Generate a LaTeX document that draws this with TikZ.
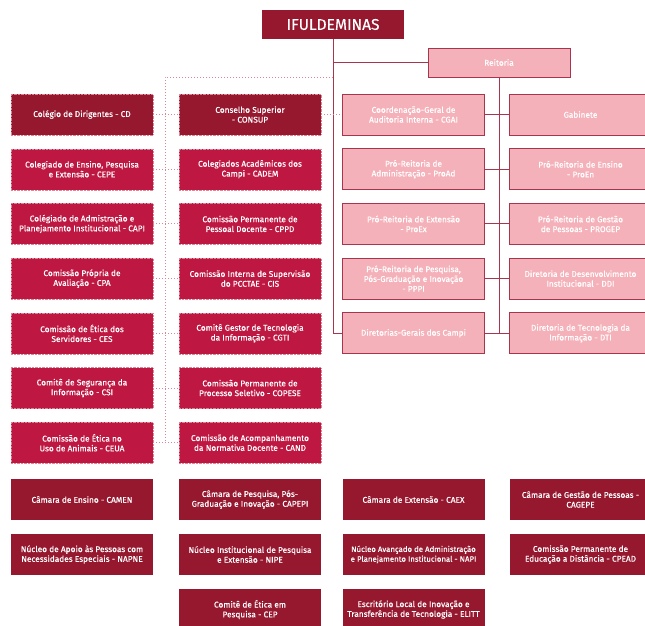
\documentclass[tikz,border=0pt]{standalone}
\usepackage{fontspec}
\setmainfont{Fira Sans}[FakeBold=0.35]
\usepackage{tikz}
\usetikzlibrary{positioning, calc}

\definecolor{vinho}{HTML}{95182F}
\definecolor{carmim}{HTML}{BE1742}
\definecolor{rosa}{HTML}{F5B1B9}
\definecolor{borda}{HTML}{A8354E}
\definecolor{ponto}{HTML}{DA8696}

\begin{document}
\begin{tikzpicture}[
		x=1pt, y=-1pt,
		every node/.style={rectangle,minimum width=142,minimum height=41,align=center,inner sep=1pt,
			text=white,font=\fontsize{8.3}{9.8}\selectfont},
		escuro/.style={fill=vinho},
		conselho/.style={fill=vinho,draw=ponto,densely dotted},
		comissao/.style={fill=carmim,draw=ponto,densely dotted},
		reitoria/.style={fill=rosa,draw=borda,line width=0.9pt},
		linha/.style={draw=borda,line width=1pt},
		pontilhado/.style={draw=ponto,line width=1pt,dotted}]
		\useasboundingbox (0,0) rectangle (645,625);
		\node[escuro, minimum height=29, font=\fontsize{15.5}{17}\selectfont] (ifu) at (333,24.5) {IFULDEMINAS};
		\node[reitoria, minimum height=29] (reit) at (499,62.5) {Reitoria};
		
		% colegiados e comissoes
		\node[conselho] (cd) at (82,114.5) {Colégio de Dirigentes - CD};
		\node[comissao] (cepe) at ($ (cd) + (0,54.7) $) {Colegiado de Ensino, Pesquisa\\e Extensão - CEPE};
		\node[comissao] (capi) at ($ (cepe) + (0,54.7) $) {Colégiado de Admistração e\\Planejamento Institucional - CAPI};
		\node[comissao] (cpa) at ($ (capi) + (0,54.7) $) {Comissão Própria de\\Avaliação - CPA};
		\node[comissao] (ces) at ($ (cpa) + (0,54.7) $) {Comissão de Ética dos\\Servidores - CES};
		\node[comissao] (csi) at ($ (ces) + (0,54.7) $) {Comitê de Segurança da\\Informação - CSI};
		\node[comissao] (ceua) at ($ (csi) + (0,54.7) $) {Comissão de Ética no\\Uso de Animais - CEUA};
		\node[conselho] (consup) at ($ (cd) + (168,0) $) {Conselho Superior\\- CONSUP};
		\node[comissao] (cadem) at ($ (cepe) + (168,0) $) {Colegiados Acadêmicos dos\\Campi - CADEM};
		\node[comissao] (cppd) at ($ (capi) + (168,0) $) {Comissão Permanente de\\Pessoal Docente - CPPD};
		\node[comissao] (cis) at ($ (cpa) + (168,0) $) {Comissão Interna de Supervisão\\do PCCTAE - CIS};
		\node[comissao] (cgti) at ($ (ces) + (168,0) $) {Comitê Gestor de Tecnologia\\da Informação - CGTI};
		\node[comissao] (copese) at ($ (csi) + (168,0) $) {Comissão Permanente de\\Processo Seletivo - COPESE};
		\node[comissao] (cand) at ($ (ceua) + (168,0) $) {Comissão de Acompanhamento\\da Normativa Docente - CAND};
		
		% reitoria
		\node[reitoria] (cgai) at (413.5,114.5) {Coordenação-Geral de\\Auditoria Interna - CGAI};
		\node[reitoria] (proad) at ($ (cgai) + (0,54.7) $) {Pró-Reitoria de\\Administração - ProAd};
		\node[reitoria] (proex) at ($ (proad) + (0,54.7) $) {Pró-Reitoria de Extensão\\- ProEx};
		\node[reitoria] (pppi) at ($ (proex) + (0,54.7) $) {Pró-Reitoria de Pesquisa,\\Pós-Graduação e Inovação\\- PPPI};
		\node[reitoria] (dgc) at ($ (pppi) + (0,54.7) $) {Diretorias-Gerais dos Campi};
		\node[reitoria] (gab) at ($ (cgai) + (167,0) $) {Gabinete};
		\node[reitoria] (proen) at ($ (proad) + (167,0) $) {Pró-Reitoria de Ensino\\- ProEn};
		\node[reitoria] (progep) at ($ (proex) + (167,0) $) {Pró-Reitoria de Gestão\\de Pessoas - PROGEP};
		\node[reitoria] (ddi) at ($ (pppi) + (167,0) $) {Diretoria de Desenvolvimento\\Institucional - DDI};
		\node[reitoria] (dti) at ($ (dgc) + (167,0) $) {Diretoria de Tecnologia da\\Informação - DTI};
		
		% camaras e nucleos
		\node[escuro] (camen) at (82,499.5) {Câmara de Ensino - CAMEN};
		\node[escuro] (capepi) at (250,499.5) {Câmara de Pesquisa, Pós-\\Graduação e Inovação - CAPEPI};
		\node[escuro] (caex) at (413.5,499.5) {Câmara de Extensão - CAEX};
		\node[escuro] (cagepe) at (580.5,499.5) {Câmara de Gestão de Pessoas -\\CAGEPE};
		\node[escuro] (napne) at ($ (camen) + (0,55) $) {Núcleo de Apoio às Pessoas com\\Necessidades Especiais - NAPNE};
		\node[escuro] (nipe) at ($ (capepi) + (0,55) $) {Núcleo Institucional de Pesquisa\\e Extensão - NIPE};
		\node[escuro, font=\fontsize{7.8}{9.8}\selectfont] (napi) at ($ (caex) + (0,55) $) {Núcleo Avançado de Administração\\e Planejamento Institucional - NAPI};
		\node[escuro] (cpead) at ($ (cagepe) + (0,55) $) {Comissão Permanente de\\Educação a Distância - CPEAD};
		\node[escuro] (cep) at ($ (nipe) + (0,55) $) {Comitê de Ética em\\Pesquisa - CEP};
		\node[escuro] (elitt) at ($ (napi) + (0,55) $) {Escritório Local de Inovação e\\Transferência de Tecnologia - ELITT};
		
		\draw[linha] (ifu) -- (ifu |- dgc) -- (dgc);
		\draw[linha] (ifu |- reit) -- (reit);
		\draw[linha] (reit) -- (reit |- dgc);
		\foreach \a/\b in {cgai/gab, proad/proen, proex/progep, pppi/ddi, dgc/dti}
			\draw[linha] (\a) -- (\b);
		
		\coordinate (canto) at (165,77);
		\draw[pontilhado] (ifu |- canto) -- (canto) -- (canto |- cand) -- (cand);
		\draw[pontilhado] (consup) -- (cgai);
		\foreach \a/\b in {cd/consup, cepe/cadem, capi/cppd, cpa/cis, ces/cgti, csi/copese, ceua/cand}
			\draw[pontilhado] (\a) -- (\b);
		
	\end{tikzpicture}
\end{document}
